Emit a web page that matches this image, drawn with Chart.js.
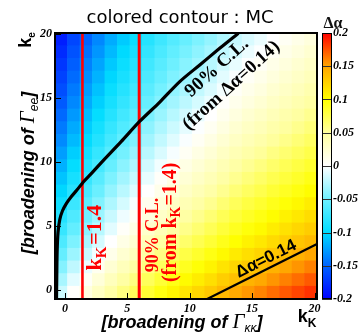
<!DOCTYPE html>
<html><head><meta charset="utf-8">
<script src="https://cdn.jsdelivr.net/npm/chart.js@4.4.1/dist/chart.umd.min.js"></script>
<style>html,body{margin:0;padding:0;background:#fff}#wrap{width:360px;height:334px;position:relative}</style>
</head><body><div id="wrap"><canvas id="c"></canvas></div>
<script>
// ---- data ----
const kKCenters = [-0.3,0.7,1.7,2.7,3.7,4.7,5.7,6.7,7.7,8.7,9.7,10.7,11.7,12.7,13.7,14.7,15.7,16.7,17.7,18.7,19.7];
const keCenters = [-0.2,0.79,1.78,2.77,3.76,4.75,5.74,6.73,7.72,8.71,9.7,10.69,11.68,12.67,13.66,14.65,15.64,16.63,17.62,18.61,19.6];
// Δα per cell, rows from ke bottom (first) to top (last), columns kK left to right
const dAlpha = [
 [-.018,.002,.017,.032,.047,.060,.072,.084,.095,.105,.114,.122,.130,.139,.147,.154,.160,.167,.173,.179,.185],
 [-.030,-.010,.005,.020,.035,.048,.060,.072,.083,.093,.102,.110,.118,.127,.135,.142,.148,.155,.161,.167,.173],
 [-.042,-.022,-.007,.008,.023,.036,.048,.060,.071,.081,.090,.098,.106,.115,.123,.130,.136,.143,.149,.155,.161],
 [-.054,-.034,-.019,-.004,.011,.024,.036,.048,.059,.069,.078,.086,.094,.103,.111,.118,.124,.131,.137,.143,.149],
 [-.065,-.045,-.030,-.015,.000,.013,.025,.037,.048,.058,.067,.075,.083,.092,.100,.107,.113,.120,.126,.132,.138],
 [-.075,-.055,-.040,-.025,-.010,.003,.015,.027,.038,.048,.057,.065,.073,.082,.090,.097,.103,.110,.116,.122,.128],
 [-.084,-.064,-.049,-.034,-.019,-.006,.006,.018,.029,.039,.048,.056,.064,.073,.081,.088,.094,.101,.107,.113,.119],
 [-.093,-.073,-.058,-.043,-.028,-.015,-.003,.009,.020,.030,.039,.047,.055,.064,.072,.079,.085,.092,.098,.104,.110],
 [-.102,-.082,-.067,-.052,-.037,-.024,-.012,.000,.011,.021,.030,.038,.046,.055,.063,.070,.076,.083,.089,.095,.101],
 [-.110,-.090,-.075,-.060,-.045,-.032,-.020,-.008,.003,.013,.022,.030,.038,.047,.055,.062,.068,.075,.081,.087,.093],
 [-.118,-.098,-.083,-.068,-.053,-.040,-.028,-.016,-.005,.005,.014,.022,.030,.039,.047,.054,.060,.067,.073,.079,.085],
 [-.126,-.106,-.091,-.076,-.061,-.048,-.036,-.024,-.013,-.003,.006,.014,.022,.031,.039,.046,.052,.059,.065,.071,.077],
 [-.134,-.114,-.099,-.084,-.069,-.056,-.044,-.032,-.021,-.011,-.002,.006,.014,.023,.031,.038,.044,.051,.057,.063,.069],
 [-.141,-.121,-.106,-.091,-.076,-.063,-.051,-.039,-.028,-.018,-.009,-.001,.007,.016,.024,.031,.037,.044,.050,.056,.062],
 [-.148,-.128,-.113,-.098,-.083,-.070,-.058,-.046,-.035,-.025,-.016,-.008,.000,.009,.017,.024,.030,.037,.043,.049,.055],
 [-.155,-.135,-.120,-.105,-.090,-.077,-.065,-.053,-.042,-.032,-.023,-.015,-.007,.002,.010,.017,.023,.030,.036,.042,.048],
 [-.161,-.141,-.126,-.111,-.096,-.083,-.071,-.059,-.048,-.038,-.029,-.021,-.013,-.004,.004,.011,.017,.024,.030,.036,.042],
 [-.167,-.147,-.132,-.117,-.102,-.089,-.077,-.065,-.054,-.044,-.035,-.027,-.019,-.010,-.002,.005,.011,.018,.024,.030,.036],
 [-.173,-.153,-.138,-.123,-.108,-.095,-.083,-.071,-.060,-.050,-.041,-.033,-.025,-.016,-.008,-.001,.005,.012,.018,.024,.030],
 [-.179,-.159,-.144,-.129,-.114,-.101,-.089,-.077,-.066,-.056,-.047,-.039,-.031,-.022,-.014,-.007,-.001,.006,.012,.018,.024],
 [-.185,-.165,-.150,-.135,-.120,-.107,-.095,-.083,-.072,-.062,-.053,-.045,-.037,-.028,-.020,-.013,-.007,.000,.006,.012,.018]
];
const xTicks = [0,5,10,15,20];
const yTicks = [0,5,10,15,20];
const zTicks = [-0.2,-0.15,-0.1,-0.05,0,0.05,0.1,0.15,0.2];
const zTickLabels = ['-0.2','-0.15','-0.1','-0.05','0','0.05','0.1','0.15','0.2'];
// 90% C.L. curve (from Δα=0.14)
const clX = [-0.68,-0.66,-0.63,-0.56,-0.42,-0.2,0.13,0.5,0.94,1.47,2.2,2.95,4.5,6.0,7.6,9.2,10.8,12.4,13.9];
const clY = [-0.7,1.0,3.0,4.5,5.5,6.2,6.8,7.3,7.8,8.45,9.2,10.0,11.6,13.2,14.7,16.3,17.6,18.9,20.08];
// vertical red lines: kK = 1.4 and 90% C.L. from kK=1.4
const kKLine = [1.4, 1.4]; const kKCLLine = [5.95, 5.95]; const vLineY = [-0.7, 20.1];
// Δα = 0.14 contour
const contourX = [11.4, 20.2]; const contourY = [-0.7, 3.6];

// ---- styles ----
const zColors = [[0,0,255],[0,100,255],[0,220,255],[110,240,255],[255,255,255],[255,255,160],[255,255,0],[255,165,0],[255,0,0]];
function rgb(c){return 'rgb('+c.map(Math.round).join(',')+')';}
function colorFor(v){
  if (v <= zTicks[0]) return rgb(zColors[0]);
  for (let k = 1; k < zTicks.length; k++) {
    if (v <= zTicks[k]) {
      const t = (v - zTicks[k-1]) / (zTicks[k] - zTicks[k-1]);
      const a = zColors[k-1], b = zColors[k];
      return rgb([a[0]+(b[0]-a[0])*t, a[1]+(b[1]-a[1])*t, a[2]+(b[2]-a[2])*t]);
    }
  }
  return rgb(zColors[zColors.length-1]);
}
const HALF_H = 0.5;
const TICKFONT = {family:'"Liberation Serif"', size:12, style:'italic', weight:'bold'};

const cellSets = keCenters.map((yc, j) => ({
  type:'bar',
  data: kKCenters.map(xc => ({x: xc, y: [yc - HALF_H, yc + HALF_H]})),
  backgroundColor: dAlpha[j].map(colorFor),
  borderWidth: 0, barPercentage: 1, categoryPercentage: 1, grouped: false,
  order: 10, clip: 0
}));
const pts = (xs, ys) => xs.map((x, i) => ({x, y: ys[i]}));
const lineSets = [
  {type:'line', data: pts(clX, clY), borderColor:'#000', borderWidth:3.2, pointRadius:0, tension:0.3, order:0, clip:0},
  {type:'line', data: pts(kKLine, vLineY), borderColor:'#ff0000', borderWidth:2.6, pointRadius:0, order:1, clip:0},
  {type:'line', data: pts(kKCLLine, vLineY), borderColor:'#ff0000', borderWidth:3, pointRadius:0, order:1, clip:0},
  {type:'line', data: pts(contourX, contourY), borderColor:'#000', borderWidth:2.2, pointRadius:0, order:0, clip:0}
];

function rich(ctx, px, py, ang, segs, color){
  ctx.save(); ctx.translate(px, py); ctx.rotate(ang*Math.PI/180);
  ctx.fillStyle = color; ctx.textBaseline = 'alphabetic'; ctx.textAlign = 'left';
  let w = 0;
  segs.forEach(s => { ctx.font = s.f; s.w = ctx.measureText(s.t).width + (s.gap || 0); w += s.w; });
  let cx = -w/2;
  segs.forEach(s => { ctx.font = s.f; ctx.fillText(s.t, cx, s.dy || 0); cx += s.w; });
  ctx.restore();
}
const SB = 'bold 18px "Liberation Serif"', SB19 = 'bold 19px "Liberation Serif"';
const SB20 = 'bold 20px "Liberation Serif"', SB22 = 'bold 22px "Liberation Serif"';
const SBsub14 = 'bold 14px "Liberation Serif"', SBsub15 = 'bold 15px "Liberation Serif"';
const AX = 'italic bold 18px "Liberation Sans"', GAM = 'italic 21px "Liberation Serif"', AXsub = 'italic 12px "Liberation Sans"';

const decor = {
  id:'decor',
  afterDatasetsDraw(chart){
    const {ctx, chartArea:a, scales:{x, y, yc}} = chart;
    ctx.save();
    // inward tick marks
    ctx.strokeStyle = '#000'; ctx.lineWidth = 1;
    ctx.beginPath();
    xTicks.forEach(v => { const p = Math.round(x.getPixelForValue(v)) + 0.5; ctx.moveTo(p, a.bottom); ctx.lineTo(p, a.bottom - 6); });
    yTicks.forEach(v => { const p = Math.round(y.getPixelForValue(v)) + 0.5; ctx.moveTo(a.left, p); ctx.lineTo(a.left + 6, p); });
    ctx.stroke();
    // frame
    ctx.lineWidth = 2; ctx.strokeStyle = '#000';
    ctx.strokeRect(a.left, a.top, a.right - a.left, a.bottom - a.top);
    // colour bar
    const L = a.right + 5, W = 10;
    const t = yc.getPixelForValue(0.2), b = yc.getPixelForValue(-0.2);
    const g = ctx.createLinearGradient(0, b, 0, t);
    zTicks.forEach((v, k) => g.addColorStop((v - zTicks[0]) / (zTicks[zTicks.length-1] - zTicks[0]), rgb(zColors[k])));
    ctx.fillStyle = g; ctx.fillRect(L, t, W, b - t);
    ctx.lineWidth = 1; ctx.strokeStyle = '#333';
    ctx.beginPath();
    zTicks.forEach(v => { const p = Math.round(yc.getPixelForValue(v)) + 0.5; ctx.moveTo(L, p); ctx.lineTo(L + W, p); });
    ctx.stroke();
    ctx.strokeStyle = '#000'; ctx.strokeRect(L + 0.5, t + 0.5, W - 1, b - t - 1);
    // annotations inside the plot
    rich(ctx, x.getPixelForValue(12.45), y.getPixelForValue(17.1), -42, [{t:'90% C.L.', f:SB19}], '#000');
    rich(ctx, x.getPixelForValue(13.6), y.getPixelForValue(15.7), -42, [{t:'(from \u0394\u03b1=0.14)', f:SB19}], '#000');
    rich(ctx, x.getPixelForValue(2.9), y.getPixelForValue(4.1), -90, [{t:'k', f:SB22},{t:'K', f:SBsub15, dy:5, gap:2},{t:'=1.4', f:SB22}], '#ff0000');
    rich(ctx, x.getPixelForValue(7.43), y.getPixelForValue(4.3), -90, [{t:'90% C.L.', f:SB}], '#ff0000');
    rich(ctx, x.getPixelForValue(8.9), y.getPixelForValue(5.3), -90, [{t:'(from k', f:SB20},{t:'K', f:SBsub14, dy:4, gap:1},{t:'=1.4)', f:SB20}], '#ff0000');
    rich(ctx, x.getPixelForValue(16.28), y.getPixelForValue(2.09), -26.6, [{t:'\u0394\u03b1=0.14', f:'bold 17px "Liberation Sans"'}], '#000');
    // axis titles
    const midY = (a.top + a.bottom) / 2 + 7;
    rich(ctx, 34, midY, -90, [{t:'[broadening of ', f:AX},{t:'\u0393', f:GAM},{t:'ee', f:AXsub, dy:4},{t:']', f:AX}], '#000');
    rich(ctx, (a.left + a.right) / 2 - 4, a.bottom + 29, 0, [{t:'[broadening of ', f:AX},{t:'\u0393', f:GAM},{t:'\u03ba\u03ba', f:AXsub, dy:4},{t:']', f:AX}], '#000');
    rich(ctx, a.right - 10, a.bottom + 23, 0, [{t:'k', f:'bold 18px "Liberation Sans"'},{t:'K', f:'bold 12px "Liberation Sans"', dy:5}], '#000');
    rich(ctx, 31, a.top + 7, -90, [{t:'k', f:'bold 18px "Liberation Sans"'},{t:'e', f:'bold 10px "Liberation Sans"', dy:4}], '#000');
    rich(ctx, L + 11, a.top - 5, 0, [{t:'\u0394\u03b1', f:'bold 16px "Liberation Serif"'}], '#111');
    ctx.restore();
  }
};

new Chart(document.getElementById('c'), {
  type:'bar',
  data:{ datasets: [...lineSets, ...cellSets] },
  options:{
    responsive:true, maintainAspectRatio:false, animation:false, events:[],
    layout:{padding:0},
    plugins:{
      legend:{display:false}, tooltip:{enabled:false},
      title:{display:true, text:'colored contour : MC', color:'#000',
        font:{family:'"DejaVu Sans"', size:18, weight:'normal'}, padding:{top:8, bottom:3.4}}
    },
    scales:{
      x:{type:'linear', min:-0.8, max:20.2, offset:false,
        grid:{display:false, drawTicks:false}, border:{display:false},
        afterBuildTicks:s => { s.ticks = xTicks.map(v => ({value:v})); },
        afterFit:s => { s.height = 35; },
        ticks:{padding:3, color:'#000', font:TICKFONT, maxRotation:0, autoSkip:false, callback:v => String(v)}},
      y:{type:'linear', position:'left', min:-0.7, max:20.1,
        grid:{display:false, drawTicks:false}, border:{display:false},
        afterBuildTicks:s => { s.ticks = yTicks.map(v => ({value:v})); },
        afterFit:s => { s.width = 55; },
        ticks:{padding:3, color:'#000', font:TICKFONT, autoSkip:false, callback:v => String(v)}},
      yc:{type:'linear', position:'right', min:-0.2, max:0.2,
        grid:{display:false, drawTicks:false}, border:{display:false},
        afterBuildTicks:s => { s.ticks = zTicks.map(v => ({value:v})); },
        afterFit:s => { s.width = 43; },
        ticks:{padding:16, color:'#000', font:TICKFONT, autoSkip:false, callback:v => zTickLabels[zTicks.indexOf(v)]}}
    }
  },
  plugins:[decor]
});
</script></body></html>
